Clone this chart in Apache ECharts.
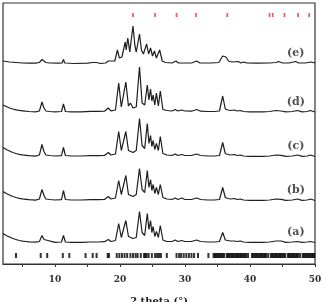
<!DOCTYPE html>
<html>
<head>
<meta charset="utf-8">
<script src="https://cdn.jsdelivr.net/npm/echarts@6/dist/echarts.min.js"></script>
<style>
  html, body { margin: 0; padding: 0; background: #fff; }
  #chart { width: 327px; height: 302px; }
</style>
</head>
<body>
<div id="chart"></div>
<script>
// 2 theta positions shared by traces (a)-(d)
const twoTheta = [2.0, 2.5, 3, 3.5, 4, 4.5, 5, 5.5, 6, 7,
  7.6, 8.0, 8.3, 8.6, 8.9, 9.2, 10, 11.0, 11.3, 11.6,
  12.5, 14, 15.5, 15.8, 16.1, 16.4, 16.7, 17.6, 18.2, 18.6,
  19.3, 19.8, 20.2, 20.5, 20.9, 21.3, 21.6, 22.0, 22.5, 23.0,
  23.4, 23.8, 24.2, 24.45, 24.7, 24.9, 25.1, 25.35, 25.6, 25.9,
  26.2, 26.6, 27.2, 28.0, 28.5, 28.9, 29.5, 30.0, 31.0, 31.8,
  32.4, 33.5, 34.5, 35.3, 35.8, 36.2, 36.6, 37.0, 37.6, 38.0,
  38.5, 39.0, 40, 41, 42, 43, 44, 44.8, 45.5, 46.5,
  47.3, 48, 48.8, 49.3, 50];

// intensities above each trace's own baseline
const traceA = [10, 8, 6.5, 5, 4, 3, 2.4, 2, 1.6, 1.3,
  2, 8, 4, 2, 3, 1.5, 1.2, 1.5, 8, 1.5,
  1.2, 1.2, 1.5, 2.5, 1.5, 2.5, 1.5, 1.8, 4, 2,
  3, 20, 6, 5, 23, 7, 8, 5, 6, 32,
  11, 8, 30, 14, 23, 11, 17, 7, 12, 6,
  18, 3.5, 2, 2, 3.5, 2, 3, 2, 2, 3.5,
  2, 1.5, 1.5, 2, 11, 3.5, 3, 2.5, 2.5, 2,
  2.5, 1.5, 1.2, 1.2, 1.2, 1.5, 2.5, 2.5, 1.2, 1.5,
  2, 1.2, 1.5, 2, 1];
const traceB = [10, 8, 6.5, 5, 4, 3.2, 2.6, 2.2, 1.8, 1.4,
  2.5, 12, 6, 2.5, 4, 2, 1.5, 1.8, 11, 2,
  1.5, 1.5, 1.8, 3, 1.8, 3, 1.8, 2, 5, 2.5,
  3.5, 21, 7, 5, 26, 7, 9, 5, 7, 33,
  12, 9, 31, 14, 22, 11, 17, 8, 14, 7,
  17, 4, 2.5, 2, 3.5, 2, 3.5, 2, 2, 3.5,
  2, 1.5, 1.5, 2, 14, 4, 3, 2.5, 3, 2,
  2.5, 1.5, 1.2, 1.2, 1.2, 1.5, 2.5, 2.2, 1.2, 1.5,
  2.5, 1.2, 1.5, 2.5, 1];
const traceC = [10, 8, 6.5, 5, 4, 3.2, 2.6, 2.2, 1.8, 1.4,
  2.5, 13, 6, 2.5, 4, 2, 1.5, 1.8, 10, 2,
  1.5, 1.5, 1.8, 3, 1.8, 3, 1.8, 2, 5, 2.5,
  3.5, 26, 7, 5, 26, 7, 8, 5, 7, 39,
  12, 9, 34, 14, 22, 11, 17, 8, 14, 7,
  21, 4, 2.5, 2, 3.5, 2, 3, 2, 2, 3.5,
  2, 1.5, 1.5, 2, 15, 4, 3, 2.5, 3, 2,
  2.5, 1.5, 1.2, 1.2, 1.2, 1.5, 2.5, 2.2, 1.2, 1.5,
  2.5, 1.2, 1.5, 2.5, 1];
const traceD = [8, 6.5, 5, 4, 3.2, 2.6, 2.2, 1.8, 1.5, 1.2,
  2, 11, 5, 2, 4, 1.5, 1.2, 1.5, 9, 1.5,
  1.2, 1.2, 1.6, 3, 1.6, 3, 1.6, 1.8, 5, 2.2,
  3, 30, 6, 5, 31, 7, 10, 5, 6, 46,
  10, 8, 28, 13, 24, 12, 18, 8, 20, 7,
  22, 3.5, 2.5, 2, 3.5, 2, 3, 2, 1.8, 3.5,
  1.8, 1.5, 1.5, 2, 17, 4, 3, 2.5, 3, 2,
  2.5, 1.5, 1.2, 1.2, 1.2, 1.5, 2.5, 2, 1.2, 1.5,
  2.5, 1.2, 1.5, 2.5, 1];

// trace (e) has its own peak set
const twoThetaE = [2.0, 2.5, 3, 4, 5, 6, 7, 7.6, 8.0, 8.3,
  8.6, 8.9, 9.2, 10.5, 11.1, 11.3, 11.5, 13, 15, 15.8,
  16.1, 16.4, 17, 17.8, 18.2, 18.5, 19.2, 19.6, 19.9, 20.3,
  20.8, 20.95, 21.2, 21.5, 22.0, 22.3, 22.5, 22.7, 23.0, 23.3,
  23.6, 24.1, 24.4, 24.7, 25.0, 25.3, 25.6, 26.1, 26.5, 27,
  28, 28.6, 29, 30, 31, 31.8, 32.3, 34, 35.2, 35.8,
  36.0, 36.3, 36.7, 37.2, 38.2, 38.6, 39.0, 39.5, 41, 43,
  44, 44.4, 45, 46, 47, 47.5, 48.5, 49.4, 50];
const traceE = [3, 2.5, 2, 1.5, 1, 0.8, 0.8, 1.5, 4.5, 3.5,
  1.5, 2.5, 1, 0.8, 1.2, 4.5, 1, 0.5, 0.8, 1.5,
  0.8, 1.5, 0.5, 1, 3, 1, 3, 14, 6, 7,
  22, 14, 26, 12, 38, 18, 12, 10, 30, 14,
  10, 20, 10, 16, 8, 13, 6, 14, 3, 1.5,
  1, 3, 1, 1, 1, 3, 1, 1, 1.5, 8,
  6, 7, 3, 2, 2.5, 1, 2, 1, 0.8, 1,
  1.5, 2.5, 1, 1, 2.5, 1, 1, 2, 1];

const traceNames = ['(a)', '(b)', '(c)', '(d)', '(e)'];
const baselines = [20.5, 62.5, 106.5, 151, 200];

// red reference reflections (top) and black reflection marks (bottom)
const refPeaks = [22.0, 25.4, 28.7, 31.7, 36.5, 43.0, 43.5, 45.3, 47.4, 49.1];
const calcPeaks = [4.0, 7.8, 8.8, 11.2, 12.2, 14.7, 15.8, 16.4, 18.1, 18.3,
  19.5, 19.9, 20.3, 20.7, 21.1, 21.6, 22.0, 22.4, 22.7, 23.2,
  23.7, 23.9, 24.1, 24.4, 24.9, 25.4, 25.7, 26.0, 26.3, 27.2,
  28.7, 29.1, 29.4, 29.8, 30.2, 30.6, 31.0, 31.4, 32.0, 33.6,
  34.4, 34.6, 34.8, 35.0, 35.2, 35.4, 35.6, 35.8, 36.0,
  36.4, 36.6, 36.8, 37.0, 37.2, 37.4, 37.6, 37.8, 38.0, 38.2, 38.4, 38.6, 38.8, 39.0, 39.2, 39.4, 39.7,
  40.3, 40.5, 40.7, 40.9, 41.1, 41.3, 41.5, 41.7, 41.9, 42.1, 42.3, 42.5, 42.8,
  43.2, 43.4, 43.6, 43.8, 44.0, 44.2, 44.4, 44.6, 44.8, 45.0, 45.2, 45.4,
  45.8, 46.0, 46.2, 46.4, 46.6, 46.8, 47.0, 47.2, 47.4, 47.7,
  48.1, 48.3, 48.5, 48.7, 48.9, 49.1, 49.3, 49.5, 49.7, 49.9];

const xTicks = [5, 10, 15, 20, 25, 30, 35, 40, 45, 50];
const xLabels = [10, 20, 30, 40, 50];

const FONT = 'DejaVu Serif';
const chart = echarts.init(document.getElementById('chart'));

function pair(xsArr, ys, base) {
  return ys.map((v, i) => [xsArr[i], v + base]);
}

const traces = [traceA, traceB, traceC, traceD];
const series = traces.map((t, i) => ({
  type: 'line',
  data: pair(twoTheta, t, baselines[i]),
  showSymbol: false,
  lineStyle: { color: '#1e1e1e', width: 1.2 },
  silent: true,
}));
series.push({
  type: 'line',
  data: pair(twoThetaE, traceE, baselines[4]),
  showSymbol: false,
  lineStyle: { color: '#1e1e1e', width: 1.2 },
  silent: true,
});
series.push({
  type: 'scatter',
  data: refPeaks.map(v => [v, 249]),
  symbol: 'rect',
  symbolSize: [1.8, 4],
  itemStyle: { color: '#e23a40' },
  silent: true,
});
series.push({
  type: 'scatter',
  data: calcPeaks.map(v => [v, 8.5]),
  symbol: 'rect',
  symbolSize: [2, 5],
  itemStyle: { color: '#000' },
  silent: true,
});
// trace names on the right
series.push({
  type: 'scatter',
  data: baselines.map((b, i) => ({ value: [47.05, b + 11], name: traceNames[i] })),
  symbolSize: 0,
  label: {
    show: true,
    position: 'inside',
    formatter: p => p.name,
    color: '#222',
    fontFamily: FONT,
    fontWeight: 'bold',
    fontSize: 11,
  },
  silent: true,
});

chart.setOption({
  animation: false,
  grid: {
    left: 3, right: 12, top: 3, bottom: 38,
    containLabel: false,
    outerBoundsMode: 'none',
    show: true, borderColor: '#333', borderWidth: 1.2,
  },
  xAxis: {
    type: 'value',
    min: 2, max: 50,
    name: '2 theta (°)',
    nameLocation: 'middle',
    nameGap: 32,
    nameTextStyle: { fontFamily: FONT, fontWeight: 'bold', fontSize: 10, color: '#222' },
    axisLine: { lineStyle: { color: '#333', width: 1.2 } },
    axisTick: { show: true, inside: false, length: 3, customValues: xTicks, lineStyle: { color: '#333' } },
    axisLabel: {
      customValues: xLabels, margin: 11,
      fontFamily: FONT, fontWeight: 'bold', fontSize: 9, color: '#333',
    },
    splitLine: { show: false },
  },
  yAxis: {
    type: 'value',
    min: 0, max: 261,
    show: false,
    splitLine: { show: false },
  },
  series: series,
});
</script>
</body>
</html>
